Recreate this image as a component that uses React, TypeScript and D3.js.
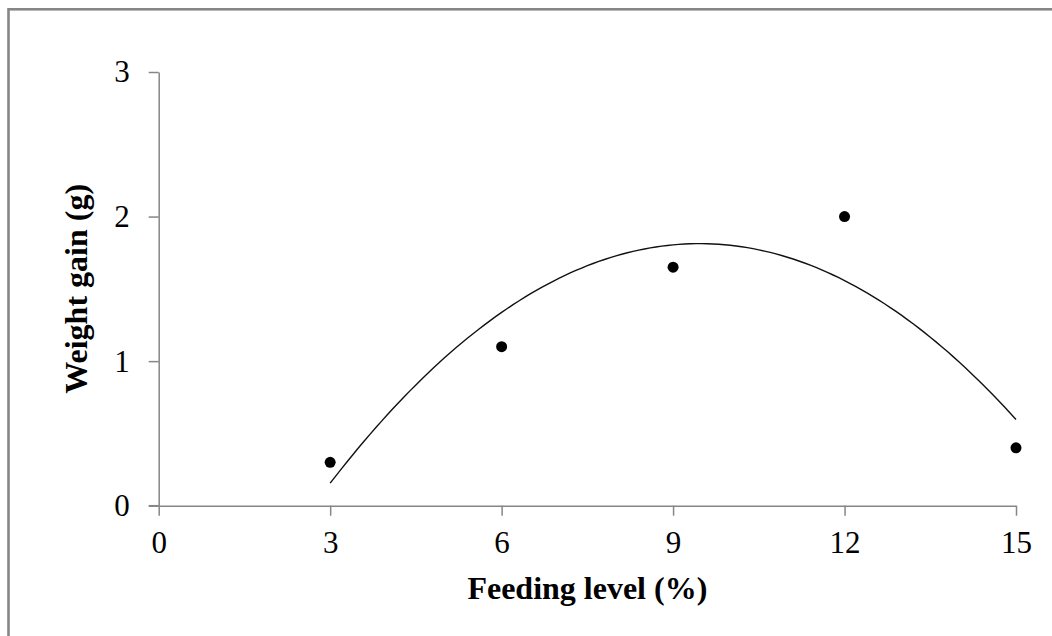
import React, { useEffect, useRef } from "react";
import * as d3 from "d3";

const feedingLevel = [3, 6, 9, 12, 15];
const weightGain = [0.3, 1.1, 1.65, 2.0, 0.4];
const xTicks = [0, 3, 6, 9, 12, 15];
const yTicks = [0, 1, 2, 3];

// least squares 2nd order polynomial (Excel style trendline)
function polyFit(xs: number[], ys: number[]) {
  const n = xs.length;
  const s = (f: (x: number, y: number) => number) =>
    d3.sum(xs.map((x, i) => f(x, ys[i])));
  const A = [
    [n, s((x) => x), s((x) => x * x)],
    [s((x) => x), s((x) => x * x), s((x) => x ** 3)],
    [s((x) => x * x), s((x) => x ** 3), s((x) => x ** 4)],
  ];
  const b = [s((x, y) => y), s((x, y) => x * y), s((x, y) => x * x * y)];
  // gaussian elimination
  for (let i = 0; i < 3; i++) {
    for (let j = i + 1; j < 3; j++) {
      const f = A[j][i] / A[i][i];
      for (let k = i; k < 3; k++) A[j][k] -= f * A[i][k];
      b[j] -= f * b[i];
    }
  }
  const c = [0, 0, 0];
  for (let i = 2; i >= 0; i--) {
    let t = b[i];
    for (let k = i + 1; k < 3; k++) t -= A[i][k] * c[k];
    c[i] = t / A[i][i];
  }
  return (x: number) => c[0] + c[1] * x + c[2] * x * x;
}

const App = () => {
  const ref = useRef<SVGSVGElement>(null);

  useEffect(() => {
    const svg = d3.select(ref.current);
    svg.selectAll("*").remove();

    const width = 1052;
    const height = 636;
    const font = "'Liberation Serif', 'Times New Roman', serif";
    const axisColor = "#868686";

    svg.append("rect").attr("width", width).attr("height", height).attr("fill", "#fff");

    // outer frame (only top & left visible)
    svg
      .append("rect")
      .attr("x", 8.5)
      .attr("y", 9.3)
      .attr("width", width + 20)
      .attr("height", height + 20)
      .attr("fill", "none")
      .attr("stroke", axisColor)
      .attr("stroke-width", 2.6);

    const x = d3.scaleLinear().domain([0, 15]).range([158.7, 1016]);
    const y = d3.scaleLinear().domain([0, 3]).range([505.7, 72]);

    const xAxis = svg
      .append("g")
      .attr("transform", `translate(0,${y(0)})`)
      .call(
        d3
          .axisBottom(x)
          .tickValues(xTicks)
          .tickSize(10)
          .tickSizeOuter(0)
          .tickPadding(15)
          .tickFormat(d3.format("d"))
      );

    const yAxis = svg
      .append("g")
      .attr("transform", `translate(${x(0)},0)`)
      .call(
        d3
          .axisLeft(y)
          .tickValues(yTicks)
          .tickSize(10)
          .tickSizeOuter(0)
          .tickPadding(19)
          .tickFormat(d3.format("d"))
      );

    [xAxis, yAxis].forEach((g) => {
      g.select(".domain").attr("stroke", axisColor).attr("stroke-width", 1.5);
      g.selectAll(".tick line").attr("stroke", axisColor).attr("stroke-width", 1.5);
      g.selectAll(".tick text")
        .attr("fill", "#000")
        .style("font-family", font)
        .style("font-size", "31px");
    });
    // x axis reaches left to meet the 0 tick of the y axis
    svg
      .append("line")
      .attr("x1", x(0) - 10)
      .attr("x2", x(0))
      .attr("y1", y(0))
      .attr("y2", y(0))
      .attr("stroke", axisColor)
      .attr("stroke-width", 1.5);

    // trendline
    const fit = polyFit(feedingLevel, weightGain);
    const xs = d3.range(0, 121).map((i) => 3 + (i * 12) / 120);
    const line = d3
      .line<number>()
      .x((d) => x(d))
      .y((d) => y(fit(d)));
    svg
      .append("path")
      .datum(xs)
      .attr("d", line)
      .attr("fill", "none")
      .attr("stroke", "#111")
      .attr("stroke-width", 1.4);

    // data points
    svg
      .selectAll("circle.pt")
      .data(feedingLevel)
      .enter()
      .append("circle")
      .attr("class", "pt")
      .attr("cx", (d) => x(d))
      .attr("cy", (d, i) => y(weightGain[i]))
      .attr("r", 5.5)
      .attr("fill", "#000");

    // axis titles
    svg
      .append("text")
      .attr("x", (x(0) + x(15)) / 2)
      .attr("y", 599)
      .attr("text-anchor", "middle")
      .style("font-family", font)
      .style("font-size", "32px")
      .style("font-weight", "700")
      .text("Feeding level (%)");

    svg
      .append("text")
      .attr("transform", `translate(87,${(y(0) + y(3)) / 2}) rotate(-90)`)
      .attr("text-anchor", "middle")
      .style("font-family", font)
      .style("font-size", "32px")
      .style("font-weight", "700")
      .text("Weight gain (g)");
  }, []);

  return (
    <svg
      ref={ref}
      width={1052}
      height={636}
      style={{ position: "absolute", left: 0, top: 0, display: "block" }}
    />
  );
};

export default App;
